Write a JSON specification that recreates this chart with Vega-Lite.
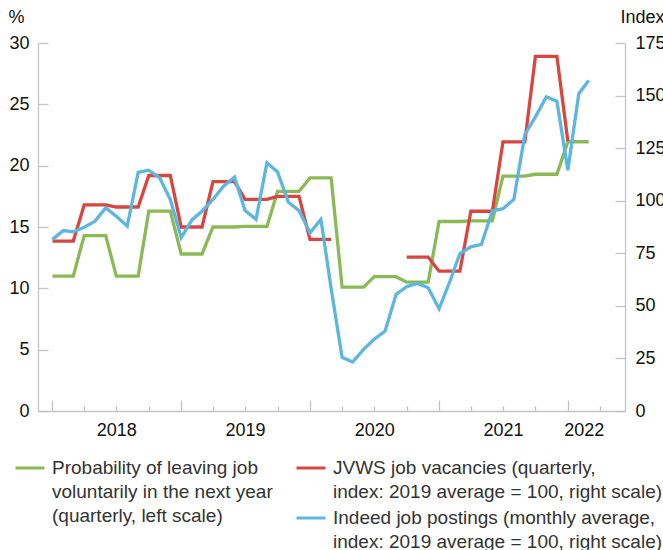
{
  "$schema": "https://vega.github.io/schema/vega-lite/v6.json",
  "width": 587,
  "height": 368,
  "autosize": {"type": "none"},
  "padding": {"left": 38, "top": 43, "right": 38, "bottom": 139},
  "background": "white",
  "config": {
    "view": {"stroke": null},
    "font": "Liberation Sans",
    "axis": {
      "domainColor": "#c4c4c4",
      "tickColor": "#c4c4c4",
      "domainWidth": 1.3,
      "tickWidth": 1.3,
      "labelFont": "Liberation Sans",
      "labelFontSize": 18,
      "labelColor": "#111111",
      "grid": false,
      "titleFont": "Liberation Sans",
      "titleFontSize": 18,
      "titleFontWeight": "normal",
      "titleColor": "#111111"
    },
    "legend": {
      "labelFont": "Liberation Sans",
      "labelFontSize": 19,
      "labelColor": "#333333",
      "labelLimit": 500,
      "symbolType": "stroke",
      "symbolStrokeWidth": 3,
      "symbolSize": 841,
      "labelOffset": 6,
      "rowPadding": -2,
      "padding": 0
    }
  },
  "data": {
    "values": [
      {"date": "2018-01-01", "leave": 11.0, "jvws": 80.8, "indeed": 81.6},
      {"date": "2018-02-01", "leave": 11.0, "jvws": 80.8, "indeed": 85.8},
      {"date": "2018-03-01", "leave": 11.0, "jvws": 80.8, "indeed": 85.2},
      {"date": "2018-04-01", "leave": 14.3, "jvws": 98.0, "indeed": 87.4},
      {"date": "2018-05-01", "leave": 14.3, "jvws": 98.0, "indeed": 90.2},
      {"date": "2018-06-01", "leave": 14.3, "jvws": 98.0, "indeed": 96.6},
      {"date": "2018-07-01", "leave": 11.0, "jvws": 97.0, "indeed": 92.6},
      {"date": "2018-08-01", "leave": 11.0, "jvws": 97.0, "indeed": 87.9},
      {"date": "2018-09-01", "leave": 11.0, "jvws": 97.0, "indeed": 113.5},
      {"date": "2018-10-01", "leave": 16.3, "jvws": 112.0, "indeed": 114.5},
      {"date": "2018-11-01", "leave": 16.3, "jvws": 112.0, "indeed": 110.9},
      {"date": "2018-12-01", "leave": 16.3, "jvws": 112.0, "indeed": 100.6},
      {"date": "2019-01-01", "leave": 12.8, "jvws": 87.5, "indeed": 82.4},
      {"date": "2019-02-01", "leave": 12.8, "jvws": 87.5, "indeed": 91.0},
      {"date": "2019-03-01", "leave": 12.8, "jvws": 87.5, "indeed": 95.0},
      {"date": "2019-04-01", "leave": 15.0, "jvws": 109.1, "indeed": 100.6},
      {"date": "2019-05-01", "leave": 15.0, "jvws": 109.1, "indeed": 106.9},
      {"date": "2019-06-01", "leave": 15.0, "jvws": 109.1, "indeed": 111.2},
      {"date": "2019-07-01", "leave": 15.05, "jvws": 100.6, "indeed": 95.3},
      {"date": "2019-08-01", "leave": 15.05, "jvws": 100.6, "indeed": 91.1},
      {"date": "2019-09-01", "leave": 15.05, "jvws": 100.6, "indeed": 118.0},
      {"date": "2019-10-01", "leave": 17.9, "jvws": 102.1, "indeed": 113.7},
      {"date": "2019-11-01", "leave": 17.9, "jvws": 102.1, "indeed": 99.3},
      {"date": "2019-12-01", "leave": 17.9, "jvws": 102.1, "indeed": 95.3},
      {"date": "2020-01-01", "leave": 19.0, "jvws": 81.6, "indeed": 84.7},
      {"date": "2020-02-01", "leave": 19.0, "jvws": 81.6, "indeed": 91.1},
      {"date": "2020-03-01", "leave": 19.0, "jvws": 81.6, "indeed": 58.3},
      {"date": "2020-04-01", "leave": 10.1, "jvws": null, "indeed": 25.5},
      {"date": "2020-05-01", "leave": 10.1, "jvws": null, "indeed": 23.3},
      {"date": "2020-06-01", "leave": 10.1, "jvws": null, "indeed": 29.3},
      {"date": "2020-07-01", "leave": 10.95, "jvws": null, "indeed": 34.1},
      {"date": "2020-08-01", "leave": 10.95, "jvws": null, "indeed": 38.0},
      {"date": "2020-09-01", "leave": 10.95, "jvws": null, "indeed": 55.4},
      {"date": "2020-10-01", "leave": 10.5, "jvws": 73.2, "indeed": 59.1},
      {"date": "2020-11-01", "leave": 10.5, "jvws": 73.2, "indeed": 60.7},
      {"date": "2020-12-01", "leave": 10.5, "jvws": 73.2, "indeed": 58.6},
      {"date": "2021-01-01", "leave": 15.45, "jvws": 66.5, "indeed": 48.6},
      {"date": "2021-02-01", "leave": 15.45, "jvws": 66.5, "indeed": 61.8},
      {"date": "2021-03-01", "leave": 15.45, "jvws": 66.5, "indeed": 74.9},
      {"date": "2021-04-01", "leave": 15.5, "jvws": 95.0, "indeed": 78.1},
      {"date": "2021-05-01", "leave": 15.5, "jvws": 95.0, "indeed": 79.2},
      {"date": "2021-06-01", "leave": 15.5, "jvws": 95.0, "indeed": 95.2},
      {"date": "2021-07-01", "leave": 19.15, "jvws": 128.0, "indeed": 96.2},
      {"date": "2021-08-01", "leave": 19.15, "jvws": 128.0, "indeed": 100.6},
      {"date": "2021-09-01", "leave": 19.15, "jvws": 128.0, "indeed": 131.4},
      {"date": "2021-10-01", "leave": 19.3, "jvws": 168.6, "indeed": 139.9},
      {"date": "2021-11-01", "leave": 19.3, "jvws": 168.6, "indeed": 149.4},
      {"date": "2021-12-01", "leave": 19.3, "jvws": 168.6, "indeed": 147.3},
      {"date": "2022-01-01", "leave": 21.95, "jvws": 128.3, "indeed": 114.5},
      {"date": "2022-02-01", "leave": 21.95, "jvws": null, "indeed": 150.9},
      {"date": "2022-03-01", "leave": 21.95, "jvws": null, "indeed": 157.2}
    ]
  },
  "layer": [
    {
      "transform": [{"fold": ["leave"], "as": ["series", "value"]}],
      "mark": {"type": "line", "strokeWidth": 3.3, "invalid": "break-paths-show-domains"},
      "encoding": {
        "x": {
          "field": "date",
          "type": "temporal",
          "scale": {
            "type": "utc",
            "domain": [
              {"year": 2017, "month": 11, "date": 21, "utc": true},
              {"year": 2022, "month": 6, "date": 12, "utc": true}
            ]
          },
          "axis": {
            "orient": "bottom",
            "title": null,
            "labels": false,
            "values": [
              {"year": 2018, "month": 1, "date": 1, "utc": true},
              {"year": 2018, "month": 4, "date": 1, "utc": true},
              {"year": 2018, "month": 7, "date": 1, "utc": true},
              {"year": 2018, "month": 10, "date": 1, "utc": true},
              {"year": 2019, "month": 1, "date": 1, "utc": true},
              {"year": 2019, "month": 4, "date": 1, "utc": true},
              {"year": 2019, "month": 7, "date": 1, "utc": true},
              {"year": 2019, "month": 10, "date": 1, "utc": true},
              {"year": 2020, "month": 1, "date": 1, "utc": true},
              {"year": 2020, "month": 4, "date": 1, "utc": true},
              {"year": 2020, "month": 7, "date": 1, "utc": true},
              {"year": 2020, "month": 10, "date": 1, "utc": true},
              {"year": 2021, "month": 1, "date": 1, "utc": true},
              {"year": 2021, "month": 4, "date": 1, "utc": true},
              {"year": 2021, "month": 7, "date": 1, "utc": true},
              {"year": 2021, "month": 10, "date": 1, "utc": true},
              {"year": 2022, "month": 1, "date": 1, "utc": true},
              {"year": 2022, "month": 4, "date": 1, "utc": true}
            ],
            "tickSize": {"condition": {"test": "utcmonth(datum.value) === 0", "value": -11}, "value": -5}
          }
        },
        "y": {
          "field": "value",
          "type": "quantitative",
          "scale": {"domain": [0, 30], "nice": false},
          "axis": {
            "orient": "left",
            "values": [0, 5, 10, 15, 20, 25, 30],
            "tickSize": -10,
            "labelPadding": 19,
            "title": "%",
            "titleAngle": 0,
            "titleAlign": "left",
            "titleBaseline": "middle",
            "titleX": -30,
            "titleY": -26
          }
        },
        "color": {
          "field": "series",
          "type": "nominal",
          "scale": {"domain": ["leave"], "range": ["#8aba55"]},
          "legend": {
            "title": null,
            "orient": "none",
            "legendX": -24,
            "legendY": 409,
            "labelExpr": "['Probability of leaving job', 'voluntarily in the next year', '(quarterly, left scale)']",
            "encode": {"labels": {"update": {"lineHeight": {"value": 24}}}}
          }
        }
      }
    },
    {
      "transform": [{"fold": ["jvws", "indeed"], "as": ["series", "value"]}],
      "mark": {"type": "line", "strokeWidth": 3.3, "invalid": "break-paths-show-domains"},
      "encoding": {
        "x": {
          "field": "date",
          "type": "temporal",
          "axis": {
            "orient": "bottom",
            "title": null,
            "ticks": false,
            "domain": false,
            "labelPadding": 10,
            "values": [
              {"year": 2018, "month": 7, "date": 1, "utc": true},
              {"year": 2019, "month": 7, "date": 1, "utc": true},
              {"year": 2020, "month": 7, "date": 1, "utc": true},
              {"year": 2021, "month": 7, "date": 1, "utc": true},
              {"year": 2022, "month": 2, "date": 15, "utc": true}
            ],
            "labelExpr": "utcFormat(datum.value, '%Y')"
          }
        },
        "y": {
          "field": "value",
          "type": "quantitative",
          "scale": {"domain": [0, 175], "nice": false},
          "axis": {
            "orient": "right",
            "values": [0, 25, 50, 75, 100, 125, 150, 175],
            "tickSize": -10,
            "labelPadding": 20,
            "title": "Index",
            "titleAngle": 0,
            "titleAlign": "left",
            "titleBaseline": "middle",
            "titleX": -5,
            "titleY": -26
          }
        },
        "color": {
          "field": "series",
          "type": "nominal",
          "scale": {"domain": ["jvws", "indeed"], "range": ["#d7473f", "#5cb6df"]},
          "legend": {
            "title": null,
            "orient": "none",
            "legendX": 257,
            "legendY": 409,
            "labelExpr": "datum.value == 'jvws' ? ['JVWS job vacancies (quarterly,', 'index: 2019 average = 100, right scale)'] : ['Indeed job postings (monthly average,', 'index: 2019 average = 100, right scale)']",
            "encode": {"labels": {"update": {"lineHeight": {"value": 24}}}}
          }
        }
      }
    }
  ],
  "resolve": {
    "scale": {"y": "independent", "color": "independent"},
    "axis": {"x": "independent", "y": "independent"}
  }
}
